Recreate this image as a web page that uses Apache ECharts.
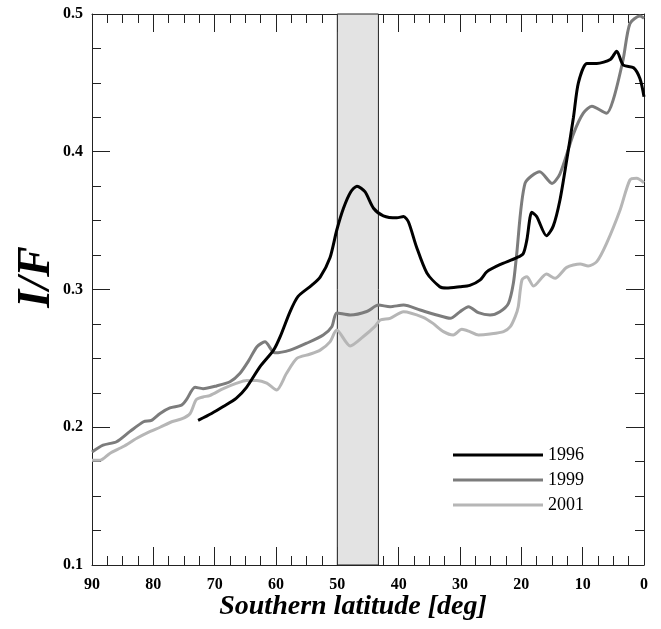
<!DOCTYPE html>
<html>
<head>
<meta charset="utf-8">
<script src="https://cdn.jsdelivr.net/npm/echarts@6/dist/echarts.min.js"></script>
<style>html,body{margin:0;padding:0;background:#fff;}#c{width:661px;height:629px;}</style>
</head>
<body>
<div id="c"></div>
<script>
const seriesNames = ['1996', '1999', '2001'];
const xTicks = [90, 80, 70, 60, 50, 40, 30, 20, 10, 0];
const yTicks = [0.1, 0.2, 0.3, 0.4, 0.5];
const bandRange = [50, 43.3];

const lat1996 = [72.7, 70.5, 68.6, 66.5, 64.8, 62.6, 60.4, 59.3, 57.7, 56.4, 54.2, 52.8, 51.2, 50.1, 49.0, 47.8, 46.8, 45.5, 44.1, 42.5, 40.3, 39.2, 38.4, 37.1, 35.4, 33.3, 32.2, 30.0, 28.4, 26.7, 25.6, 23.5, 20.8, 19.7, 19.1, 18.3, 17.5, 15.9, 14.8, 13.7, 12.6, 11.5, 10.7, 9.3, 7.7, 5.5, 4.45, 3.4, 1.7, 0.65, 0];
const val1996 = [0.205, 0.210, 0.215, 0.221, 0.229, 0.244, 0.256, 0.266, 0.284, 0.295, 0.303, 0.309, 0.323, 0.343, 0.359, 0.371, 0.375, 0.371, 0.359, 0.3535, 0.352, 0.353, 0.349, 0.331, 0.312, 0.302, 0.301, 0.302, 0.303, 0.307, 0.313, 0.318, 0.323, 0.326, 0.336, 0.356, 0.353, 0.339, 0.346, 0.365, 0.394, 0.425, 0.450, 0.464, 0.464, 0.467, 0.473, 0.463, 0.461, 0.453, 0.440];

const lat1999 = [90, 88.2, 86.0, 83.8, 81.6, 80.3, 78.9, 77.3, 75.4, 74.6, 73.2, 71.9, 69.7, 67.5, 65.9, 64.5, 63.1, 61.8, 60.2, 57.7, 55.0, 52.3, 50.9, 50.1, 47.9, 45.2, 43.3, 41.4, 39.2, 36.5, 33.8, 31.6, 30.0, 28.6, 27.0, 25.1, 23.5, 22.1, 21.3, 20.8, 19.4, 17.0, 15.0, 13.7, 11.5, 9.9, 8.5, 6.1, 5.0, 3.4, 2.3, 0.65, 0];
const val1999 = [0.182, 0.187, 0.1895, 0.197, 0.204, 0.205, 0.210, 0.214, 0.216, 0.220, 0.229, 0.228, 0.230, 0.233, 0.239, 0.248, 0.2585, 0.262, 0.254, 0.256, 0.261, 0.267, 0.273, 0.283, 0.2815, 0.284, 0.2887, 0.2875, 0.2887, 0.2851, 0.2815, 0.2791, 0.2839, 0.2875, 0.2832, 0.2815, 0.2839, 0.290, 0.3045, 0.3238, 0.377, 0.3855, 0.377, 0.384, 0.413, 0.428, 0.433, 0.428, 0.438, 0.467, 0.493, 0.4985, 0.497];

const lat2001 = [90, 88.7, 87.1, 84.9, 82.7, 80.5, 78.9, 77.0, 75.4, 74.0, 73.0, 71.9, 70.8, 68.6, 66.4, 64.8, 63.1, 61.5, 59.9, 58.3, 56.6, 54.5, 52.8, 51.2, 50.1, 47.9, 45.8, 43.9, 43.0, 41.4, 39.2, 36.0, 34.4, 32.7, 31.1, 29.7, 28.4, 27.0, 25.1, 22.9, 21.8, 21.0, 20.5, 19.9, 19.1, 18.0, 15.9, 14.5, 12.6, 10.4, 9.1, 7.7, 6.1, 3.9, 2.3, 1.2, 0];
const val2001 = [0.176, 0.176, 0.181, 0.186, 0.192, 0.197, 0.200, 0.204, 0.206, 0.210, 0.220, 0.222, 0.223, 0.228, 0.232, 0.234, 0.234, 0.232, 0.227, 0.239, 0.250, 0.253, 0.256, 0.262, 0.2706, 0.259, 0.2657, 0.273, 0.2779, 0.2791, 0.2839, 0.2798, 0.2754, 0.2694, 0.267, 0.2711, 0.2694, 0.267, 0.2677, 0.2694, 0.273, 0.2803, 0.2875, 0.3069, 0.3093, 0.3025, 0.3112, 0.3081, 0.3161, 0.3185, 0.3171, 0.3202, 0.3335, 0.3577, 0.3795, 0.3807, 0.3775];

const zip = (a, b) => a.map((v, i) => [v, b[i]]);
const FONT = "'Liberation Serif', 'Times New Roman', serif";
const AX = '#222';

const chart = echarts.init(document.getElementById('c'), null, {renderer: 'canvas'});

function xAxisCfg(pos, labels) {
  return {
    type: 'value', position: pos, min: xTicks[xTicks.length - 1], max: xTicks[0], interval: 10, inverse: true,
    axisLine: {show: true, onZero: false, lineStyle: {color: AX, width: 1}},
    axisTick: {show: true, inside: true, length: 18, lineStyle: {color: AX, width: 1}},
    minorTick: {show: true, splitNumber: 4, length: 9, lineStyle: {color: AX, width: 1}},
    splitLine: {show: false},
    axisLabel: {show: labels, margin: 12, color: '#000', fontFamily: FONT, fontWeight: 'bold', fontSize: 16}
  };
}
function yAxisCfg(pos, labels) {
  return {
    type: 'value', position: pos, min: yTicks[0], max: yTicks[yTicks.length - 1], interval: 0.1,
    axisLine: {show: true, onZero: false, lineStyle: {color: AX, width: 1}},
    axisTick: {show: true, inside: true, length: 18, lineStyle: {color: AX, width: 1}},
    minorTick: {show: true, splitNumber: 4, length: 9, lineStyle: {color: AX, width: 1}},
    splitLine: {show: false},
    axisLabel: {show: labels, margin: 9, color: '#000', fontFamily: FONT, fontWeight: 'bold', fontSize: 16,
      formatter: v => v.toFixed(1)}
  };
}

const colors = ['#000000', '#7c7c7c', '#b6b6b6'];
const datasets = [zip(lat1996, val1996), zip(lat1999, val1999), zip(lat2001, val2001)];

const series = seriesNames.map((n, i) => ({
  name: n, type: 'line', data: datasets[i], xAxisIndex: 0, yAxisIndex: 0,
  showSymbol: false, symbol: 'none', smooth: 0.25,
  lineStyle: {color: colors[i], width: 3}, itemStyle: {color: colors[i]},
  z: 5 - i,
  silent: true
}));
series.unshift({
  name: 'band', type: 'line', data: [], xAxisIndex: 0, yAxisIndex: 0, z: 1, silent: true,
  markArea: {
    silent: true,
    itemStyle: {color: '#e3e3e3', borderColor: '#222', borderWidth: 1},
    data: [[{xAxis: bandRange[0]}, {xAxis: bandRange[1]}]]
  }
});

chart.setOption({
  animation: false,
  backgroundColor: '#fff',
  grid: {left: 92, right: 17, top: 14, bottom: 64, containLabel: false},
  xAxis: [xAxisCfg('bottom', true), xAxisCfg('top', false)],
  yAxis: [yAxisCfg('left', true), yAxisCfg('right', false)],
  legend: {
    data: seriesNames, orient: 'vertical', left: 448, top: 441,
    icon: 'rect', itemWidth: 90, itemHeight: 3, itemGap: 7,
    textStyle: {fontFamily: FONT, fontSize: 18, color: '#000', lineHeight: 17},
    selectedMode: false
  },
  graphic: [
    {type: 'text', x: 37, y: 277, rotation: Math.PI / 2,
      style: {text: 'I/F', fontFamily: FONT, fontStyle: 'italic', fontWeight: 'bold', fontSize: 46,
        fill: '#000', align: 'center', verticalAlign: 'middle'}},
    {type: 'text', x: 353, y: 607,
      style: {text: 'Southern latitude [deg]', fontFamily: FONT, fontStyle: 'italic', fontWeight: 'bold', fontSize: 28,
        fill: '#000', align: 'center', verticalAlign: 'middle'}}
  ],
  series: series
});
</script>
</body>
</html>
